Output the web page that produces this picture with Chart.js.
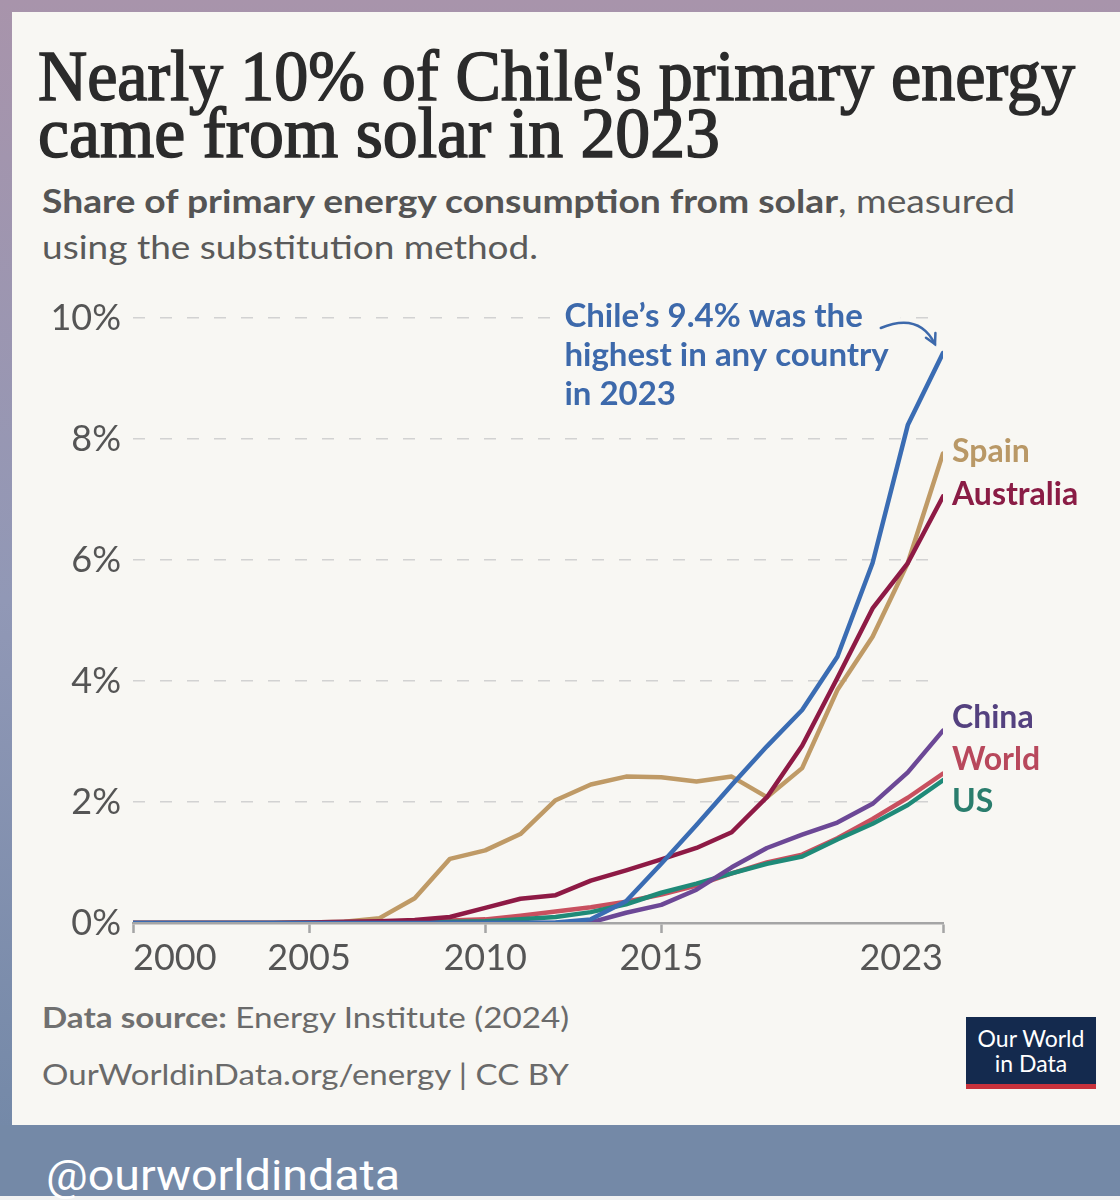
<!DOCTYPE html>
<html>
<head>
<meta charset="utf-8">
<script src="https://cdn.jsdelivr.net/npm/chart.js@4.4.1/dist/chart.umd.min.js"></script>
<style>
html, body { margin: 0; padding: 0; }
body {
  width: 1120px; height: 1200px; position: relative; overflow: hidden;
  background: linear-gradient(#a894ab, #9198b6 50%, #7489a8 94%);
  font-family: Lato, sans-serif;
}
#card { position: absolute; left: 12px; top: 12px; width: 1108px; height: 1113px; background: #f8f7f3; }
#band { position: absolute; left: 0; top: 1125px; width: 1120px; height: 71px; background: #7489a7; }
#strip { position: absolute; left: 0; top: 1196px; width: 1120px; height: 4px; background: #f2f2f2; }
.blk { position: absolute; white-space: nowrap; }
.fit { transform-origin: 0 0; }
.fit > span { display: inline-block; }
#title { left: 38px; top: 48px; font: 72px/57px "Liberation Serif", serif; color: #2b2b2b; -webkit-text-stroke: 1.6px #2b2b2b; }
#sub { left: 42px; top: 177px; font: 33px/46px Lato, sans-serif; color: #5a5a5a; }
#sub b { color: #545454; }
#foot { left: 42px; top: 988px; font: 29px/57px Lato, sans-serif; color: #6a6a6a; }
#foot b { color: #707070; }
#handle { left: 46px; top: 1155px; font: 42px/42px Roboto, sans-serif; color: #ffffff; }
#logo {
  position: absolute; left: 966px; top: 1017px; width: 130px; height: 67px;
  background: #142a4e; border-bottom: 5px solid #c8323c;
  color: #fff; font: 23px/25px Lato, sans-serif; text-align: center;
}
#logo div:first-child { margin-top: 9px; }
#c { position: absolute; left: 0; top: 0; }
</style>
</head>
<body>
<div id="card"></div>
<div id="band"></div>
<div id="strip"></div>

<div id="title" class="blk">
  <div class="fit" data-w="1037"><span>Nearly 10% of Chile's primary energy</span></div>
  <div class="fit" data-w="682"><span>came from solar in 2023</span></div>
</div>
<div id="sub" class="blk">
  <div class="fit" data-w="973"><span><b>Share of primary energy consumption from solar</b>, measured</span></div>
  <div class="fit" data-w="496"><span>using the substitution method.</span></div>
</div>
<div id="foot" class="blk">
  <div class="fit" data-w="527"><span><b>Data source:</b> Energy Institute (2024)</span></div>
  <div class="fit" data-w="527"><span>OurWorldinData.org/energy | CC BY</span></div>
</div>
<div id="logo"><div>Our World</div><div>in Data</div></div>
<div id="handle" class="blk"><div class="fit" data-w="354"><span>@ourworldindata</span></div></div>

<canvas id="c" width="1120" height="1200"></canvas>

<script>
// Années et valeurs (% de l'énergie primaire venant du solaire)
const years = [2000, 2001, 2002, 2003, 2004, 2005, 2006, 2007, 2008, 2009, 2010, 2011,
  2012, 2013, 2014, 2015, 2016, 2017, 2018, 2019, 2020, 2021, 2022, 2023];
const tickYears = [2000, 2005, 2010, 2015, 2023];

const chile = [0, 0, 0, 0, 0, 0, 0, 0, 0, 0, 0, 0,
  0.01, 0.06, 0.36, 0.98, 1.62, 2.28, 2.92, 3.52, 4.4, 5.95, 8.23, 9.42];
const spain = [0, 0, 0, 0, 0, 0.01, 0.02, 0.08, 0.41, 1.06, 1.2, 1.47,
  2.03, 2.29, 2.42, 2.41, 2.34, 2.42, 2.08, 2.56, 3.85, 4.73, 5.95, 7.76];
const australia = [0, 0, 0, 0, 0, 0.01, 0.02, 0.03, 0.05, 0.1, 0.25, 0.4,
  0.46, 0.7, 0.87, 1.05, 1.24, 1.5, 2.08, 2.93, 4.05, 5.2, 5.95, 7.05];
const china = [0, 0, 0, 0, 0, 0, 0, 0, 0, 0, 0, 0,
  0, 0.01, 0.17, 0.3, 0.55, 0.92, 1.24, 1.46, 1.66, 1.97, 2.49, 3.18];
const world = [0, 0, 0, 0, 0, 0.01, 0.01, 0.01, 0.02, 0.04, 0.06, 0.12,
  0.19, 0.26, 0.35, 0.47, 0.62, 0.82, 1.0, 1.13, 1.4, 1.72, 2.07, 2.47];
const us = [0, 0, 0, 0, 0, 0.01, 0.01, 0.01, 0.01, 0.02, 0.03, 0.06,
  0.1, 0.18, 0.31, 0.5, 0.65, 0.82, 0.98, 1.1, 1.38, 1.64, 1.95, 2.36];

const seriesNames = ["Chile", "Spain", "Australia", "China", "World", "US"];
const seriesValues = [chile, spain, australia, china, world, us];
const lineColors = ["#3a6cb3", "#bf9a66", "#8e1a45", "#6c4896", "#c8505f", "#1f8a78"];
const labelColors = ["#3d69ab", "#b99866", "#8a1c45", "#54417f", "#b8485c", "#2a7d6d"];
const drawOrder = [1, 3, 2, 4, 6, 5];

const noteLines = ["Chile’s 9.4% was the", "highest in any country", "in 2023"];

// Ajuste horizontal des lignes de texte HTML
const fitBlocks = () => {
  document.querySelectorAll(".fit").forEach((el) => {
    const span = el.querySelector("span");
    const w = span.getBoundingClientRect().width;
    el.style.transform = `scaleX(${el.dataset.w / w})`;
  });
};

// Étiquettes des séries à droite + annotation du Chili
const labelPlugin = {
  id: "labels",
  beforeDatasetsDraw(chart) {
    const { ctx, scales } = chart;
    const x0 = scales.x.getPixelForValue(2012.25);
    const y0 = scales.y.getPixelForValue(10) - 2;
    ctx.save();
    ctx.font = "bold 33px Lato";
    const w = Math.max(...noteLines.map((t) => ctx.measureText(t).width));
    ctx.fillStyle = "#f8f7f3";
    ctx.fillRect(x0 - 12, y0 - 22, w + 24, noteLines.length * 39 + 4);
    ctx.restore();
  },
  afterDatasetsDraw(chart) {
    const { ctx, scales, chartArea } = chart;
    ctx.save();

    // étiquettes à droite
    const items = [];
    for (let i = 1; i < seriesNames.length; i++) {
      const v = seriesValues[i][seriesValues[i].length - 1];
      items.push({ i, y: scales.y.getPixelForValue(v) });
    }
    items.sort((a, b) => a.y - b.y);
    const gap = 42;
    for (let k = 0; k < 100; k++) {
      for (let j = 1; j < items.length; j++) {
        const diff = items[j].y - items[j - 1].y;
        if (diff < gap) {
          const d = (gap - diff) / 2;
          items[j - 1].y -= d;
          items[j].y += d;
        }
      }
    }
    ctx.font = "bold 32px Lato";
    ctx.textBaseline = "middle";
    ctx.textAlign = "left";
    items.forEach((it) => {
      ctx.fillStyle = labelColors[it.i];
      ctx.fillText(seriesNames[it.i], chartArea.right + 9, it.y - 2);
    });

    // annotation Chili
    const x0 = scales.x.getPixelForValue(2012.25);
    const y0 = scales.y.getPixelForValue(10) - 2;
    ctx.font = "bold 33px Lato";
    ctx.fillStyle = labelColors[0];
    noteLines.forEach((t, k) => ctx.fillText(t, x0, y0 + k * 39));
    const endText = x0 + ctx.measureText(noteLines[0]).width;

    const px = scales.x.getPixelForValue(years[years.length - 1]);
    const py = scales.y.getPixelForValue(chile[chile.length - 1]);
    const sx = endText + 18, sy = y0 + 12;
    const ex = px - 8, ey = py - 9;
    const cx = ex - 16, cy = sy - 16;
    ctx.strokeStyle = labelColors[0];
    ctx.lineWidth = 2.5;
    ctx.lineCap = "round";
    ctx.beginPath();
    ctx.moveTo(sx, sy);
    ctx.quadraticCurveTo(cx, cy, ex, ey);
    ctx.stroke();
    const ang = Math.atan2(ey - cy, ex - cx);
    ctx.beginPath();
    ctx.moveTo(ex - 11 * Math.cos(ang - 0.5), ey - 11 * Math.sin(ang - 0.5));
    ctx.lineTo(ex, ey);
    ctx.lineTo(ex - 11 * Math.cos(ang + 0.5), ey - 11 * Math.sin(ang + 0.5));
    ctx.stroke();
    ctx.restore();
  },
};

const buildChart = () => {
  fitBlocks();
  const datasets = seriesNames.map((name, i) => ({
    label: name,
    data: years.map((y, j) => ({ x: y, y: seriesValues[i][j] })),
    borderColor: lineColors[i],
    borderWidth: 4.5,
    pointRadius: 0,
    tension: 0,
    fill: false,
    borderJoinStyle: "round",
    borderCapStyle: "round",
    order: drawOrder[i],
  }));

  new Chart(document.getElementById("c"), {
    type: "line",
    data: { datasets },
    plugins: [labelPlugin],
    options: {
      responsive: false,
      animation: false,
      devicePixelRatio: 1,
      layout: { padding: { left: 0, right: 177, top: 318, bottom: 217 } },
      plugins: { legend: { display: false }, tooltip: { enabled: false } },
      scales: {
        x: {
          type: "linear",
          min: 2000,
          max: 2023,
          afterBuildTicks: (scale) => {
            scale.ticks = tickYears.map((v) => ({ value: v }));
          },
          afterFit: (scale) => { scale.height = 60; },
          ticks: {
            align: "inner",
            padding: 4,
            color: "#555",
            font: { family: "Lato", size: 36 },
            callback: (v) => String(v),
          },
          grid: {
            drawOnChartArea: false,
            drawTicks: true,
            tickLength: 10,
            tickColor: "#a5a5a5",
            tickWidth: 2.5,
          },
          border: { display: true, color: "#a5a5a5", width: 2.5, z: 1 },
        },
        y: {
          min: 0,
          max: 10,
          afterFit: (scale) => { scale.width = 133; },
          ticks: {
            stepSize: 2,
            padding: 12,
            color: "#555",
            font: { family: "Lato", size: 36 },
            callback: (v) => v + "%",
          },
          grid: { color: "#d2d2d2", lineWidth: 1.6, drawTicks: false },
          border: { display: false, dash: [12, 15] },
        },
      },
    },
  });
};

Promise.all([
  document.fonts.load("36px Lato"),
  document.fonts.load("bold 32px Lato"),
  document.fonts.load("72px 'Liberation Serif'"),
  document.fonts.load("42px Roboto"),
]).then(buildChart, buildChart);
</script>
</body>
</html>
